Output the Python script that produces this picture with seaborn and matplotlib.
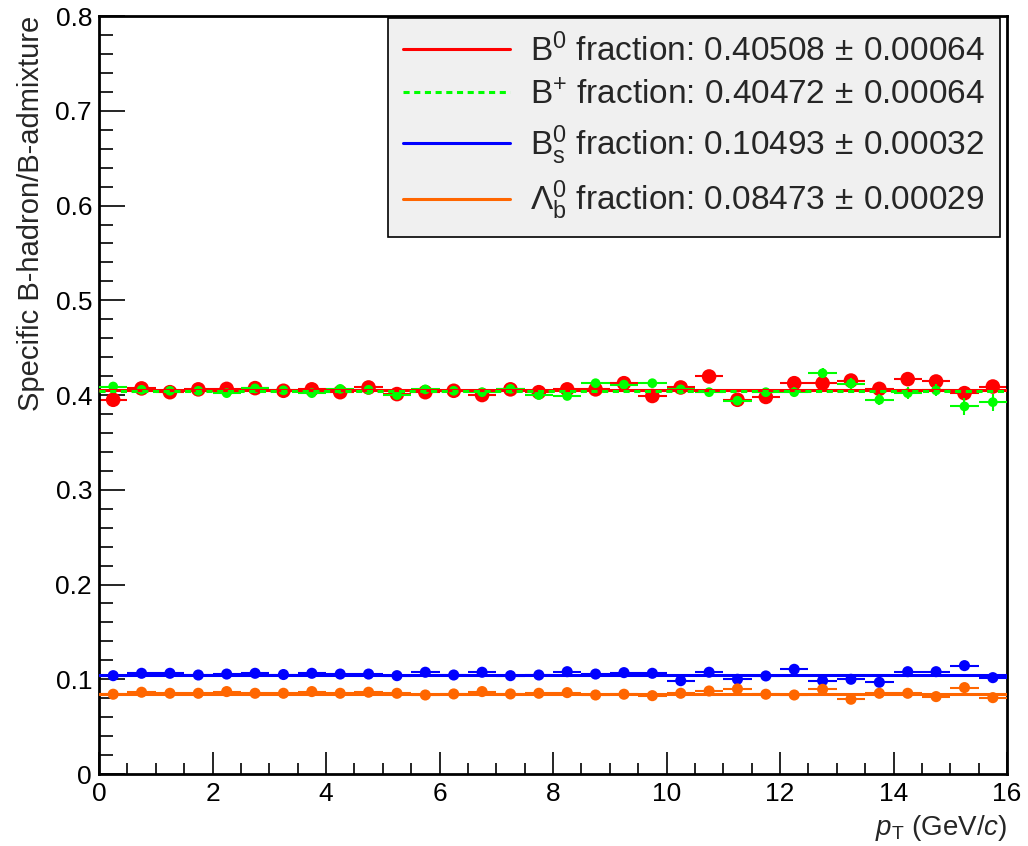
import numpy as np
import pandas as pd
import seaborn as sns
import matplotlib
matplotlib.use("Agg")
import matplotlib.pyplot as plt
from matplotlib.lines import Line2D
from matplotlib.ticker import MultipleLocator

# bin centres (GeV/c), bin width 0.5
pt = [0.25, 0.75, 1.25, 1.75, 2.25, 2.75, 3.25, 3.75, 4.25, 4.75, 5.25, 5.75, 6.25, 6.75, 7.25, 7.75,
      8.25, 8.75, 9.25, 9.75, 10.25, 10.75, 11.25, 11.75, 12.25, 12.75, 13.25, 13.75, 14.25, 14.75, 15.25, 15.75]

b0 = [0.395, 0.407, 0.403, 0.406, 0.4065, 0.4073, 0.4045, 0.406, 0.403, 0.408, 0.401, 0.403, 0.4045, 0.400, 0.406, 0.403,
      0.406, 0.406, 0.4125, 0.399, 0.408, 0.4196, 0.395, 0.398, 0.4125, 0.4125, 0.4153, 0.4065, 0.4168, 0.4143, 0.402, 0.409]
b0_err = [0.003, 0.002, 0.002, 0.002, 0.002, 0.002, 0.002, 0.002, 0.0022, 0.0024, 0.0025, 0.0026, 0.0028, 0.003, 0.003, 0.0032,
          0.0034, 0.0036, 0.0038, 0.004, 0.004, 0.0042, 0.0045, 0.0048, 0.005, 0.0052, 0.0055, 0.0058, 0.006, 0.0062, 0.0066, 0.0072]

bp = [0.409, 0.4055, 0.4045, 0.4045, 0.402, 0.407, 0.405, 0.402, 0.4065, 0.4055, 0.400, 0.406, 0.4045, 0.403, 0.4065, 0.400,
      0.399, 0.4125, 0.411, 0.4125, 0.406, 0.403, 0.394, 0.403, 0.403, 0.423, 0.412, 0.395, 0.402, 0.405, 0.388, 0.3925]
bp_err = [0.004, 0.002, 0.002, 0.002, 0.002, 0.002, 0.002, 0.002, 0.0022, 0.0024, 0.0025, 0.0026, 0.0028, 0.003, 0.003, 0.0032,
          0.0034, 0.0036, 0.0038, 0.004, 0.004, 0.0042, 0.0045, 0.0048, 0.005, 0.0055, 0.0058, 0.006, 0.0062, 0.0065, 0.009, 0.009]

bs = [0.1038, 0.1063, 0.1063, 0.1045, 0.1055, 0.1063, 0.105, 0.1063, 0.1055, 0.1055, 0.1038, 0.1074, 0.1045, 0.1074, 0.1038, 0.1045,
      0.108, 0.1055, 0.107, 0.1063, 0.0985, 0.1074, 0.100, 0.1035, 0.1105, 0.0985, 0.100, 0.0968, 0.108, 0.108, 0.1144, 0.1017]
bs_err = [0.0012, 0.0012, 0.0012, 0.0012, 0.0012, 0.0012, 0.0012, 0.0013, 0.0013, 0.0014, 0.0014, 0.0015, 0.0015, 0.0016, 0.0017, 0.0018,
          0.0018, 0.0019, 0.002, 0.002, 0.0021, 0.0022, 0.0023, 0.0024, 0.0025, 0.0026, 0.0027, 0.0028, 0.0029, 0.003, 0.0032, 0.0035]

lb = [0.0842, 0.0863, 0.0852, 0.0852, 0.087, 0.0852, 0.0852, 0.087, 0.0852, 0.0863, 0.0852, 0.0834, 0.0845, 0.087, 0.0845, 0.0852,
      0.0859, 0.0834, 0.0842, 0.0827, 0.0852, 0.0876, 0.0898, 0.0842, 0.0834, 0.0894, 0.0789, 0.0852, 0.0852, 0.0817, 0.0912, 0.0806]
lb_err = [0.0011, 0.0011, 0.0011, 0.0011, 0.0011, 0.0011, 0.0012, 0.0012, 0.0012, 0.0013, 0.0013, 0.0014, 0.0014, 0.0015, 0.0016, 0.0016,
          0.0017, 0.0018, 0.0018, 0.0019, 0.002, 0.002, 0.0021, 0.0022, 0.0023, 0.0024, 0.0025, 0.0026, 0.0027, 0.0028, 0.003, 0.0032]

# fitted constants
fits = [0.40508, 0.40472, 0.10493, 0.08473]
fit_errs = [0.00064, 0.00064, 0.00032, 0.00029]
labels = [r"B$^{0}$ fraction", r"B$^{+}$ fraction", r"B$_{\mathrm{s}}^{0}$ fraction", r"$\Lambda_{\mathrm{b}}^{0}$ fraction"]
colors = ["#ff0000", "#00ff00", "#0000ff", "#ff6600"]
styles = ["-", (0, (2, 1.5)), "-", "-"]
msizes = [10.5, 7, 8, 8]

sns.set_style("ticks")
plt.rcParams['font.family'] = ['Liberation Sans', 'DejaVu Sans']
plt.rcParams['mathtext.fontset'] = 'custom'
plt.rcParams['mathtext.rm'] = 'Liberation Sans'
plt.rcParams['mathtext.it'] = 'Liberation Sans:italic'

fig = plt.figure(figsize=(10.28, 8.46), dpi=100)
ax = fig.add_axes([0.0963, 0.0851, 0.8833, 0.8959])

series = [(b0, b0_err), (bp, bp_err), (bs, bs_err), (lb, lb_err)]
for i in range(4):
    vals, errs = series[i]
    df = pd.DataFrame({"pt": pt, "frac": vals})
    ax.errorbar(pt, vals, xerr=0.25, yerr=errs, fmt="none", ecolor=colors[i], elinewidth=1.5, zorder=2 + i)
    sns.scatterplot(data=df, x="pt", y="frac", ax=ax, color=colors[i], s=msizes[i] ** 2,
                    edgecolor="none", zorder=2 + i, legend=False)

for i in range(4):
    fdf = pd.DataFrame({"pt": [0, 16], "frac": [fits[i], fits[i]]})
    sns.lineplot(data=fdf, x="pt", y="frac", ax=ax, color=colors[i], linestyle=styles[i],
                 linewidth=2.2, zorder=6 + i)

ax.set_xlim(0, 16)
ax.set_ylim(0, 0.8)
ax.xaxis.set_major_locator(MultipleLocator(2))
ax.xaxis.set_minor_locator(MultipleLocator(0.5))
ax.yaxis.set_major_locator(MultipleLocator(0.1))
ax.yaxis.set_minor_locator(MultipleLocator(0.02))
ax.yaxis.set_major_formatter(matplotlib.ticker.FuncFormatter(lambda v, p: "0" if abs(v) < 1e-9 else f"{v:.1f}"))
ax.tick_params(axis="both", which="both", direction="in", width=1.2, labelsize=19, colors="black")
ax.tick_params(axis="y", which="major", length=19, pad=5)
ax.tick_params(axis="y", which="minor", length=10)
ax.tick_params(axis="x", which="major", length=16, pad=6)
ax.tick_params(axis="x", which="minor", length=8)
for sp in ax.spines.values():
    sp.set_linewidth(2)
    sp.set_color("black")

ax.set_xlabel(r"$p_{\mathrm{T}}$ (GeV/$c$)", fontsize=20, loc="right")
ax.set_ylabel("Specific B-hadron/B-admixture", fontsize=21, loc="top")
ax.xaxis.set_label_coords(1.0, -0.052)
ax.yaxis.set_label_coords(-0.06, 1.0)

handles = [Line2D([0], [0], color=colors[i], linestyle=styles[i], linewidth=2.2) for i in range(4)]
leg_labels = [f"{labels[i]}: {fits[i]:.5f}$\\,\\pm\\,${fit_errs[i]:.5f}" for i in range(4)]
leg = ax.legend(handles, leg_labels, loc="upper right", bbox_to_anchor=(0.992, 0.997), borderaxespad=0,
                fontsize=24, handlelength=3.2, handletextpad=0.6, labelspacing=0.36, borderpad=0.45,
                frameon=True, fancybox=False, framealpha=1)
leg.get_frame().set_facecolor("#f0f0f0")
leg.get_frame().set_edgecolor("black")
leg.get_frame().set_linewidth(1.2)
leg.set_zorder(20)

fig.savefig("out.png", dpi=100)
